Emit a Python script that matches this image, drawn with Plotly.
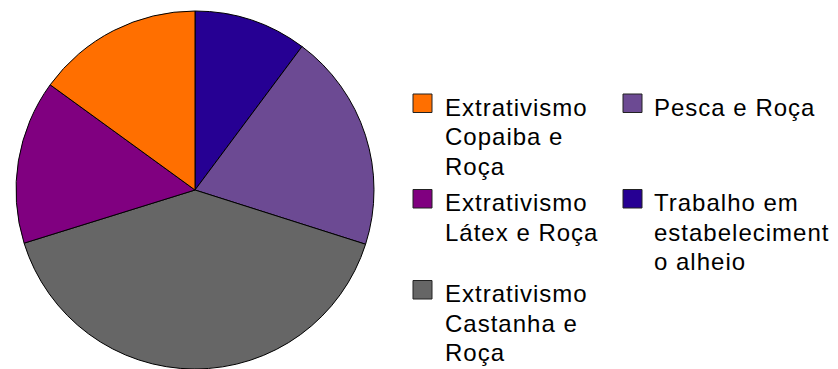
import plotly.graph_objects as go

# Share of households by main source of income (%)
categories = [
    "Trabalho em estabelecimento alheio",
    "Pesca e Roça",
    "Extrativismo Castanha e Roça",
    "Extrativismo Látex e Roça",
    "Extrativismo Copaiba e Roça",
]
values = [10.2, 19.7, 40.3, 14.8, 15.0]
colors = ["#260093", "#6C4A93", "#666666", "#800080", "#FF6F00"]

# Legend entries, read left-to-right then top-to-bottom, with their wrapped text
legend_order = [
    "Extrativismo Copaiba e Roça",
    "Pesca e Roça",
    "Extrativismo Látex e Roça",
    "Trabalho em estabelecimento alheio",
    "Extrativismo Castanha e Roça",
]
legend_lines = {
    "Extrativismo Copaiba e Roça": ["Extrativismo", "Copaiba e", "Roça"],
    "Pesca e Roça": ["Pesca e Roça"],
    "Extrativismo Látex e Roça": ["Extrativismo", "Látex e Roça"],
    "Trabalho em estabelecimento alheio": ["Trabalho em", "estabeleciment", "o alheio"],
    "Extrativismo Castanha e Roça": ["Extrativismo", "Castanha e", "Roça"],
}

W, H = 838, 369
FONT = "Liberation Sans, Arial, sans-serif"
FS = 24

fig = go.Figure(
    go.Pie(
        labels=categories,
        values=values,
        sort=False,
        direction="clockwise",
        rotation=0,
        marker=dict(colors=colors, line=dict(color="#000000", width=1)),
        textinfo="none",
        showlegend=False,
        domain=dict(x=[16 / W, 374 / W], y=[0, 358 / H]),
    )
)

# Hand-built two-column legend
col_square_x = [413, 623]
col_text_x = [444, 653]
row_baseline = [115.5, 211, 302]
line_step = 29.5
ascent = 22.7  # top-anchored annotation: distance from box top to baseline

shapes = []
annotations = []
color_of = dict(zip(categories, colors))
for i, name in enumerate(legend_order):
    row, col = divmod(i, 2)
    base = row_baseline[row]
    x0 = col_square_x[col]
    shapes.append(
        dict(
            type="rect",
            xref="paper",
            yref="paper",
            x0=x0 / W,
            x1=(x0 + 19) / W,
            y0=1 - (base - 3) / H,
            y1=1 - (base - 21.5) / H,
            fillcolor=color_of[name],
            line=dict(color="#222222", width=1),
        )
    )
    for k, txt in enumerate(legend_lines[name]):
        b = base + k * line_step
        annotations.append(
            dict(
                xref="paper",
                yref="paper",
                x=col_text_x[col] / W,
                y=1 - (b - ascent) / H,
                xanchor="left",
                yanchor="top",
                text=f'<span style="letter-spacing:1px">{txt}</span>',
                showarrow=False,
                borderpad=0,
                font=dict(family=FONT, size=FS, color="#000000"),
            )
        )

fig.update_layout(
    width=W,
    height=H,
    margin=dict(l=0, r=0, t=0, b=0),
    paper_bgcolor="#FFFFFF",
    plot_bgcolor="#FFFFFF",
    shapes=shapes,
    annotations=annotations,
)

fig.write_html("out.html")
